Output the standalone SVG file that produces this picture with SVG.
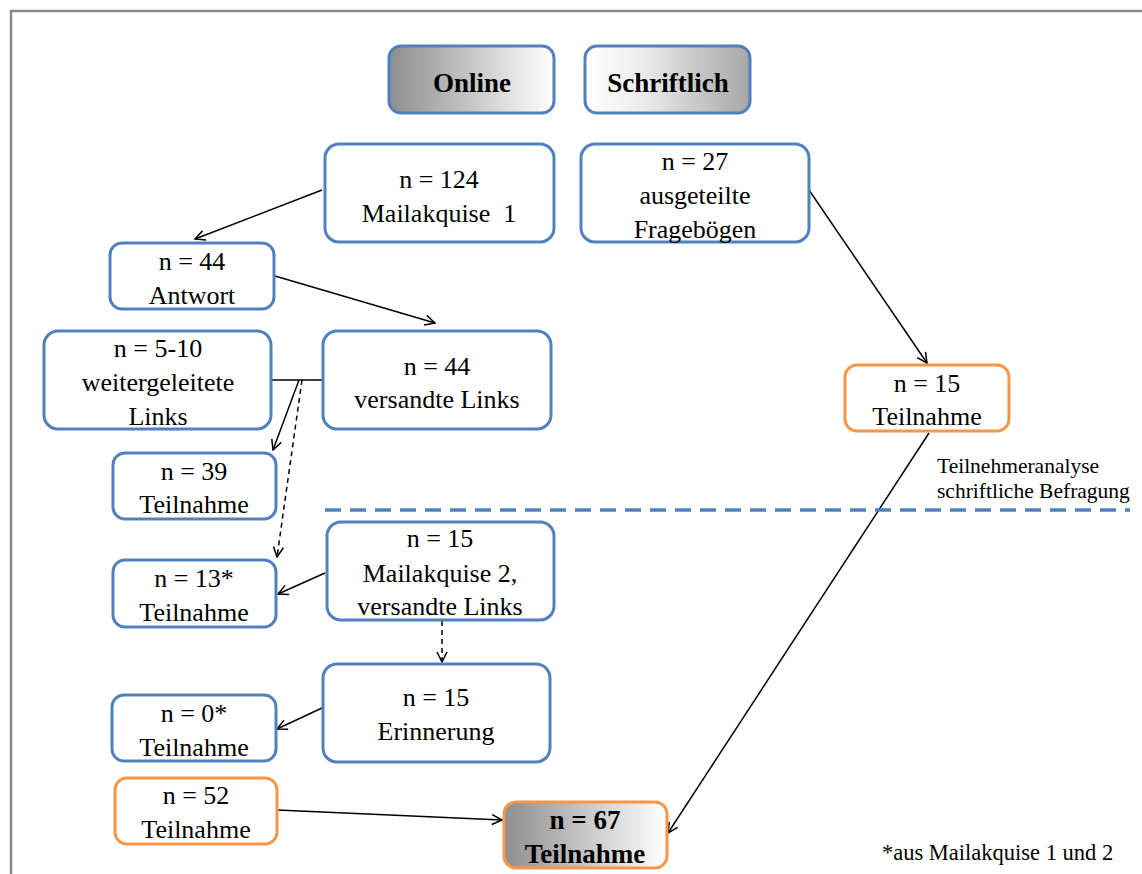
<svg xmlns="http://www.w3.org/2000/svg" width="1142" height="874" viewBox="0 0 1142 874">
<style>
.b{fill:#fff;stroke:#4F81BD;stroke-width:3}
.o{fill:#fff;stroke:#F79646;stroke-width:3}
text{font-family:"Liberation Serif","Times New Roman",serif;font-size:26px;fill:#000;text-anchor:middle}
.bold{font-weight:bold;font-size:27px}
.c{fill:none;stroke:#000;stroke-width:1.5}
.d{stroke-dasharray:5,4}
.small{font-size:21.5px;text-anchor:start}
</style>
<defs>
<linearGradient id="gOn" x1="0" y1="0" x2="1" y2="0">
<stop offset="0" stop-color="#8e8e8e"/><stop offset="1" stop-color="#ffffff"/>
</linearGradient>
<linearGradient id="gSc" x1="0" y1="0" x2="1" y2="0">
<stop offset="0" stop-color="#ffffff"/><stop offset="0.35" stop-color="#ececec"/><stop offset="1" stop-color="#a6a6a6"/>
</linearGradient>
<marker id="ah" viewBox="0 0 12 12" refX="11" refY="6" markerWidth="12" markerHeight="12" markerUnits="userSpaceOnUse" orient="auto">
<path d="M1,1 L11,6 L1,11" fill="none" stroke="#000" stroke-width="1.5"/>
</marker>
</defs>
<rect width="1142" height="874" fill="#fff"/>
<path d="M11,874 L11,11 L1142,11" fill="none" stroke="#888" stroke-width="2.5"/>

<g id="connectors">
<line class="c" x1="322" y1="190" x2="195" y2="239" marker-end="url(#ah)"/>
<line class="c" x1="275" y1="276" x2="435" y2="323" marker-end="url(#ah)"/>
<line class="c" x1="272" y1="380" x2="323" y2="380"/>
<line class="c" x1="299" y1="380" x2="273" y2="450" marker-end="url(#ah)"/>
<line class="c d" x1="302" y1="380" x2="277" y2="557" marker-end="url(#ah)"/>
<line class="c" x1="809" y1="190" x2="927" y2="363" marker-end="url(#ah)"/>
<line class="c" x1="929" y1="433" x2="668" y2="833" marker-end="url(#ah)"/>
<line class="c" x1="325" y1="573" x2="278" y2="594" marker-end="url(#ah)"/>
<line class="c d" x1="442" y1="621" x2="442" y2="662" marker-end="url(#ah)"/>
<line class="c" x1="322" y1="708" x2="277" y2="729" marker-end="url(#ah)"/>
<line class="c" x1="277" y1="810" x2="502" y2="820" marker-end="url(#ah)"/>
<line x1="325" y1="510" x2="1130" y2="510" stroke="#4F81BD" stroke-width="3.5" stroke-dasharray="16,9"/>
</g>

<g id="online"><rect x="389" y="46" width="165" height="67" rx="12" fill="url(#gOn)" stroke="#4F81BD" stroke-width="3"/><text class="bold" x="472" y="92">Online</text></g>
<g id="schriftlich"><rect x="585" y="46" width="165" height="67" rx="12" fill="url(#gSc)" stroke="#4F81BD" stroke-width="3"/><text class="bold" x="668" y="92">Schriftlich</text></g>

<g id="n124"><rect class="b" x="325" y="144" width="229" height="98" rx="14"/><text x="439" y="188">n = 124</text><text x="439" y="222" xml:space="preserve">Mailakquise  1</text></g>
<g id="n27"><rect class="b" x="581" y="144" width="228" height="98" rx="14"/><text x="695" y="170">n = 27</text><text x="695" y="204">ausgeteilte</text><text x="695" y="238">Fragebögen</text></g>
<g id="n44a"><rect class="b" x="110" y="243" width="164" height="66" rx="12"/><text x="192" y="270">n = 44</text><text x="192" y="304">Antwort</text></g>
<g id="n510"><rect class="b" x="44" y="331" width="227" height="98" rx="14"/><text x="158" y="357">n = 5-10</text><text x="158" y="391">weitergeleitete</text><text x="158" y="425">Links</text></g>
<g id="n44v"><rect class="b" x="323" y="331" width="228" height="98" rx="14"/><text x="437" y="375">n = 44</text><text x="437" y="408">versandte Links</text></g>
<g id="n39"><rect class="b" x="113" y="453" width="163" height="66" rx="12"/><text x="194" y="480">n = 39</text><text x="194" y="513">Teilnahme</text></g>
<g id="n15s"><rect class="o" x="845" y="365" width="164" height="66" rx="12"/><text x="927" y="392">n = 15</text><text x="927" y="425">Teilnahme</text></g>
<g id="n15m"><rect class="b" x="327" y="522" width="227" height="98" rx="14"/><text x="440" y="547">n = 15</text><text x="440" y="582">Mailakquise 2,</text><text x="440" y="615">versandte Links</text></g>
<g id="n13"><rect class="b" x="113" y="560" width="163" height="67" rx="12"/><text x="194" y="587">n = 13*</text><text x="194" y="621">Teilnahme</text></g>
<g id="n15e"><rect class="b" x="323" y="664" width="227" height="98" rx="14"/><text x="436" y="706">n = 15</text><text x="436" y="740">Erinnerung</text></g>
<g id="n0"><rect class="b" x="112" y="695" width="164" height="66" rx="12"/><text x="194" y="722">n = 0*</text><text x="194" y="756">Teilnahme</text></g>
<g id="n52"><rect class="o" x="115" y="778" width="162" height="66" rx="12"/><text x="196" y="804">n = 52</text><text x="196" y="838">Teilnahme</text></g>
<g id="n67"><rect x="504" y="802" width="163" height="66" rx="12" fill="url(#gOn)" stroke="#F79646" stroke-width="3"/><text class="bold" x="585" y="829">n = 67</text><text class="bold" x="585" y="863">Teilnahme</text></g>

<text class="small" x="937" y="473">Teilnehmeranalyse</text>
<text class="small" x="937" y="498">schriftliche Befragung</text>
<text class="small" x="882" y="860" style="font-size:22.5px">*aus Mailakquise 1 und 2</text>
</svg>
